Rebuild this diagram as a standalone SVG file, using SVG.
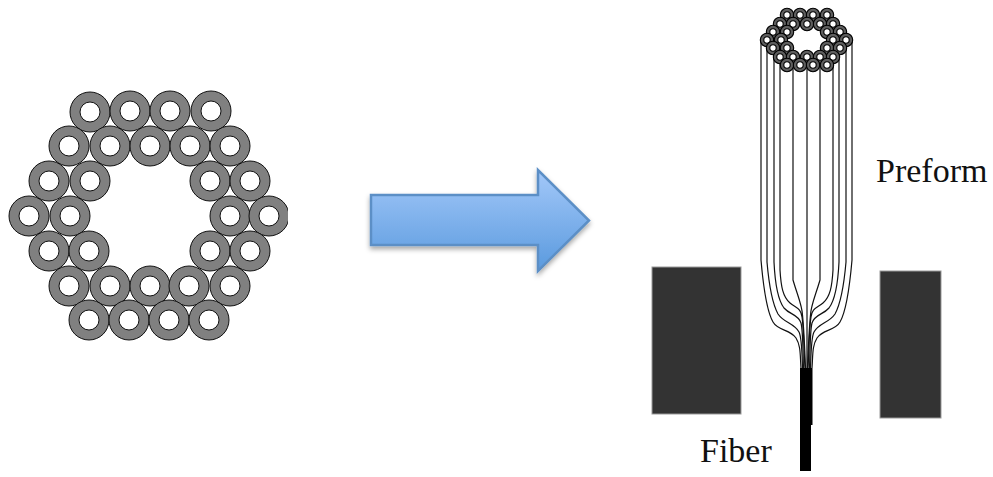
<svg xmlns="http://www.w3.org/2000/svg" xmlns:xlink="http://www.w3.org/1999/xlink" width="993" height="477" viewBox="0 0 993 477">
<style>
.b{fill:#808080;stroke:#111;stroke-width:1}
.h{fill:#fff;stroke:#111;stroke-width:1}
.sb{fill:#5f5f5f;stroke:#000;stroke-width:1.100}
.sh{fill:#fff;stroke:#000;stroke-width:1.100}
.w{fill:none;stroke:#111;stroke-width:1.200}
.g{fill:#333;stroke:#999;stroke-width:1}
.t{font-family:"Liberation Serif","Times New Roman",serif;font-size:34px;fill:#111}
</style>
<defs>
<linearGradient id="ag" x1="0" y1="0" x2="0" y2="1">
<stop offset="0" stop-color="#a3c8f9"/><stop offset="1" stop-color="#5a9ade"/>
</linearGradient>
<filter id="sh" x="-10%" y="-20%" width="120%" height="150%">
<feDropShadow dx="0" dy="3" stdDeviation="2.5" flood-color="#000" flood-opacity=".35"/>
</filter>
<clipPath id="cp"><rect x="0" y="0" width="288" height="477"/></clipPath>
<g id="ring"><circle class="b" r="20"/><circle class="h" r="10"/></g>
<g id="sring"><circle class="sb" r="6.700"/><circle class="sh" r="3.200"/></g>
<g id="half">
<path class="w" d="M761 40V260C763 283 766 310 773 322C778 331 790 329 796 338C801 346 800 355 801 368"/>
<path class="w" d="M767 40V262C769 285 772 303 778 314C784 323 794 323 799 332C802 338 802 355 802.500 368"/>
<path class="w" d="M774 40V262C775 283 778 300 784 308C790 315 798 314 801 323C803 330 803 355 803.500 368"/>
<path class="w" d="M780 40V270C781 287 783 297 790 303C796 308 801 308 802 317C804 330 804 355 805 368"/>
<path class="w" d="M793 50V280C798 297 802 305 802.500 315C804 330 805 355 805.500 368"/>
</g>
</defs>

<g id="cross-section" clip-path="url(#cp)">
<use href="#ring" x="90" y="112"/><use href="#ring" x="130" y="111"/><use href="#ring" x="170" y="111"/><use href="#ring" x="211" y="111"/>
<use href="#ring" x="69" y="146"/><use href="#ring" x="110" y="146"/><use href="#ring" x="150" y="146"/><use href="#ring" x="190" y="146"/><use href="#ring" x="230" y="146"/>
<use href="#ring" x="49" y="181"/><use href="#ring" x="90" y="181"/><use href="#ring" x="210" y="181"/><use href="#ring" x="250" y="181"/>
<use href="#ring" x="29" y="216"/><use href="#ring" x="70" y="216"/><use href="#ring" x="230" y="216"/><use href="#ring" x="269" y="216"/>
<use href="#ring" x="49" y="251"/><use href="#ring" x="89" y="251"/><use href="#ring" x="210" y="251"/><use href="#ring" x="250" y="251"/>
<use href="#ring" x="69" y="286"/><use href="#ring" x="110" y="286"/><use href="#ring" x="150" y="286"/><use href="#ring" x="189" y="286"/><use href="#ring" x="230" y="286"/>
<use href="#ring" x="89" y="320"/><use href="#ring" x="129" y="320"/><use href="#ring" x="169" y="320"/><use href="#ring" x="209" y="320"/>
</g>

<g id="arrow">
<path d="M371 195H538V170L589 220.500L538 271V245H371Z" fill="url(#ag)" stroke="#5c8fc6" stroke-width="2.500" filter="url(#sh)"/>
</g>

<g id="heaters">
<rect class="g" x="652" y="267" width="89" height="147"/>
<rect class="g" x="880" y="271" width="61" height="147"/>
</g>

<g id="connectors">
<use href="#half"/>
<use href="#half" transform="matrix(-1 0 0 1 1613 0)"/>
<path class="w" d="M807 50V368"/>
</g>

<g id="preform-end">
<use href="#sring" x="787" y="15"/><use href="#sring" x="800" y="15"/><use href="#sring" x="813" y="15"/><use href="#sring" x="827" y="15"/>
<use href="#sring" x="780" y="24"/><use href="#sring" x="793" y="24"/><use href="#sring" x="807" y="24"/><use href="#sring" x="820" y="24"/><use href="#sring" x="833" y="24"/>
<use href="#sring" x="773" y="32"/><use href="#sring" x="787" y="32"/><use href="#sring" x="827" y="32"/><use href="#sring" x="840" y="32"/>
<use href="#sring" x="767" y="40"/><use href="#sring" x="781" y="40"/><use href="#sring" x="833" y="40"/><use href="#sring" x="846" y="40"/>
<use href="#sring" x="773" y="48"/><use href="#sring" x="787" y="48"/><use href="#sring" x="827" y="48"/><use href="#sring" x="840" y="48"/>
<use href="#sring" x="780" y="57"/><use href="#sring" x="793" y="57"/><use href="#sring" x="807" y="57"/><use href="#sring" x="820" y="57"/><use href="#sring" x="833" y="57"/>
<use href="#sring" x="787" y="65"/><use href="#sring" x="800" y="65"/><use href="#sring" x="813" y="65"/><use href="#sring" x="827" y="65"/>
</g>

<g id="fiber">
<rect x="800" y="368" width="11" height="103" fill="#000"/>
<rect x="811" y="368" width="1.500" height="57" fill="#000"/>
</g>

<g id="labels">
<text class="t" x="876" y="182">Preform</text>
<text class="t" x="700" y="462">Fiber</text>
</g>
</svg>
